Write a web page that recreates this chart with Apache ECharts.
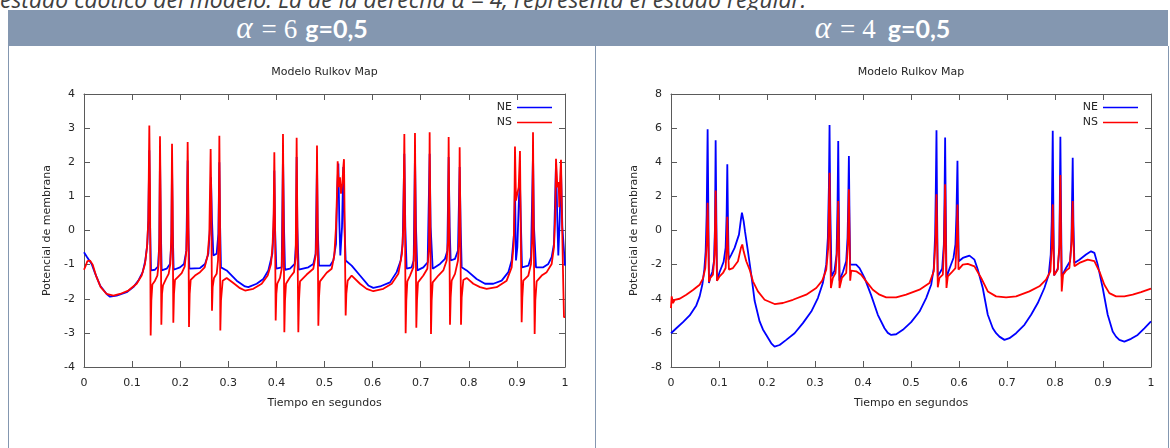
<!DOCTYPE html>
<html>
<head>
<meta charset="utf-8">
<script src="https://cdn.jsdelivr.net/npm/echarts/dist/echarts.min.js"></script>
<style>
  html, body { margin: 0; padding: 0; background: #fff; width: 1170px; height: 448px; overflow: hidden; }
  body { position: relative; }
  #intro { position: absolute; left: 0; top: -12px; font: italic 23px "Open Sans", sans-serif; color: #404040; white-space: nowrap; line-height: 23px; }
  .band { position: absolute; top: 10px; height: 36px; background: #8497b0; }
  .hd { position: absolute; top: 10px; height: 36px; line-height: 36px; text-align: center; color: #fff; white-space: nowrap; }
  .hd .m { font: 27px "Liberation Serif", serif; }
  .hd .m i { font-size: 31px; }
  .hd .m .eq { margin: 0 7px 0 9px; }
  .hd b { font: bold 25px Lato, sans-serif; }
  .vl { position: absolute; top: 46px; bottom: 0; width: 1px; background: #8497b0; }
  #chart { position: absolute; left: 0; top: 0; width: 1170px; height: 448px; }
</style>
</head>
<body>
<div id="intro">estado caótico del modelo. La de la derecha <i>α</i> = 4, representa el estado regular.</div>
<div class="band" style="left:8px;width:1160px"></div>
<div class="hd" style="left:8px;width:588px"><span class="m"><i>α</i><span class="eq">=</span>6</span>&nbsp;&nbsp;<b>g=0,5</b></div>
<div class="hd" style="left:597px;width:571px"><span class="m"><i>α</i><span class="eq">=</span>4</span>&nbsp;&nbsp;&nbsp;<b>g=0,5</b></div>
<div class="vl" style="left:8px"></div>
<div class="vl" style="left:595px"></div>
<div class="vl" style="left:1168px"></div>
<div id="chart"></div>
<script>
// Rulkov map, two coupled neurons (NE, NS); time in seconds, membrane potential.
const seriesNames = ['NE', 'NS'];
const chartTitle = 'Modelo Rulkov Map';
const xName = 'Tiempo en segundos';
const yName = 'Potencial de membrana';

// alpha = 6, g = 0.5 (chaotic regime)
const ne6 = [
  [0,-0.64],[0.0055,-0.76],[0.0159,-0.98],[0.0229,-1.25],[0.0333,-1.61],[0.0471,-1.86],[0.0541,-1.94],
  [0.0679,-1.91],[0.0887,-1.81],[0.1026,-1.66],[0.113,-1.47],[0.122,-1.22],[0.1275,-0.88],[0.1317,-0.39],
  [0.1337,0.29],[0.1358,2.35],[0.1372,0.29],[0.1393,-1.17],[0.1476,-1.15],[0.1538,-1.06],[0.1566,-0.39],
  [0.158,2.25],[0.1594,0.29],[0.1615,-1.17],[0.1719,-1.12],[0.1788,-0.98],[0.1816,-0.39],[0.183,1.96],
  [0.1843,0.10],[0.1864,-1.15],[0.1996,-1.08],[0.2079,-0.98],[0.2128,-0.59],[0.2155,2.05],[0.2169,0.10],
  [0.219,-1.12],[0.2412,-1.10],[0.2516,-0.98],[0.2585,-0.68],[0.262,0.10],[0.264,1.56],[0.2661,0.29],
  [0.2689,-0.73],[0.2758,-0.68],[0.2793,-0.10],[0.2814,2.00],[0.2827,0.29],[0.2848,-1.08],[0.2966,-1.17],
  [0.3174,-1.47],[0.3347,-1.64],[0.3416,-1.66],[0.359,-1.56],[0.3728,-1.42],[0.3832,-1.17],[0.3916,-0.68],
  [0.3943,0.10],[0.3957,1.76],[0.3971,0.10],[0.3999,-1.12],[0.411,-1.08],[0.4137,2.25],[0.4158,0.10],
  [0.4179,-1.15],[0.4283,-1.12],[0.438,-0.98],[0.4407,-0.39],[0.4421,2.15],[0.4435,0.10],[0.4463,-1.15],
  [0.4664,-1.08],[0.4768,-0.98],[0.4816,-0.68],[0.4844,1.96],[0.4858,0.10],[0.4886,-1.03],[0.5114,-1.03],
  [0.5184,-0.88],[0.5239,-0.39],[0.5267,1.27],[0.5288,1.96],[0.5308,0.29],[0.5329,-0.73],[0.5364,0.10],
  [0.5391,1.86],[0.5412,0.29],[0.544,-0.88],[0.5565,-1.03],[0.5738,-1.32],[0.5911,-1.61],[0.6015,-1.68],
  [0.6154,-1.64],[0.6362,-1.52],[0.65,-1.22],[0.6584,-0.88],[0.6625,-0.39],[0.666,2.25],[0.668,0.10],
  [0.6708,-1.12],[0.6812,-1.08],[0.6854,-0.88],[0.6881,2.25],[0.6902,0.10],[0.693,-1.17],[0.7055,-1.08],
  [0.7145,-0.93],[0.7186,2.25],[0.7207,0.10],[0.7249,-1.12],[0.7401,-0.98],[0.7505,-0.83],[0.7554,-0.59],
  [0.7581,2.15],[0.7602,0.10],[0.7623,-0.88],[0.7713,-0.83],[0.7775,-0.59],[0.781,1.86],[0.7831,0.10],
  [0.7852,-1.08],[0.7956,-1.17],[0.8163,-1.42],[0.8337,-1.56],[0.851,-1.56],[0.8683,-1.47],[0.8822,-1.22],
  [0.8891,-0.88],[0.894,-0.10],[0.896,1.27],[0.8981,-0.88],[0.9009,-0.49],[0.9044,0.98],[0.9064,1.37],
  [0.9085,0.10],[0.9106,-1.08],[0.9238,-1.03],[0.9293,-0.78],[0.9335,2.25],[0.9355,0.10],[0.9397,-1.08],
  [0.9549,-1.08],[0.9653,-0.98],[0.9723,-0.78],[0.9771,-0.39],[0.9813,1.96],[0.9841,0.29],[0.9861,-0.73],
  [0.9889,0.29],[0.9917,1.76],[0.9945,0.10],[1,-1.03]
];
const ns6 = [
  [0,-1.15],[0.0028,-1.06],[0.0069,-0.90],[0.0125,-0.88],[0.018,-1.00],[0.0249,-1.32],[0.0347,-1.66],
  [0.0471,-1.86],[0.061,-1.91],[0.0748,-1.86],[0.0922,-1.76],[0.1095,-1.56],[0.1199,-1.32],[0.1268,-0.98],
  [0.131,-0.49],[0.1337,0.29],[0.1358,3.08],[0.1372,1.27],[0.1386,-3.08],[0.14,-2.05],[0.1421,-1.58],
  [0.1476,-1.47],[0.1525,-1.32],[0.1552,-0.98],[0.1566,-0.20],[0.158,2.76],[0.1594,0.78],[0.1608,-2.76],
  [0.1622,-1.86],[0.1642,-1.61],[0.1705,-1.42],[0.176,-1.27],[0.1795,-0.98],[0.1816,-0.10],[0.183,2.54],
  [0.1843,0.78],[0.1857,-2.70],[0.1871,-1.86],[0.1892,-1.45],[0.1961,-1.35],[0.2031,-1.25],[0.2093,-1.06],
  [0.2128,-0.59],[0.2141,0.10],[0.2155,2.59],[0.2169,0.78],[0.2183,-2.83],[0.2197,-1.86],[0.2218,-1.45],
  [0.2308,-1.32],[0.2412,-1.22],[0.2509,-1.08],[0.2571,-0.73],[0.2606,-0.10],[0.2633,2.39],[0.2647,0.78],
  [0.2661,-2.35],[0.2675,-1.66],[0.2703,-1.39],[0.2758,-1.27],[0.2786,-0.88],[0.28,-0.10],[0.2814,2.78],
  [0.2827,0.49],[0.2834,-2.93],[0.2848,-2.05],[0.2883,-1.47],[0.2966,-1.39],[0.3105,-1.54],[0.3243,-1.69],
  [0.3347,-1.76],[0.352,-1.71],[0.3694,-1.56],[0.3819,-1.32],[0.3888,-0.98],[0.3922,-0.39],[0.3943,0.49],
  [0.3957,2.29],[0.3971,0.29],[0.3985,-2.64],[0.3999,-1.86],[0.4019,-1.56],[0.4075,-1.39],[0.411,-1.12],
  [0.4123,-0.39],[0.4137,2.83],[0.4151,0.29],[0.4165,-2.98],[0.4179,-2.05],[0.42,-1.56],[0.4283,-1.37],
  [0.4366,-1.22],[0.4401,-0.78],[0.4421,2.72],[0.4435,0.29],[0.4456,-2.98],[0.447,-2.05],[0.4491,-1.49],
  [0.4629,-1.29],[0.4768,-1.12],[0.4816,-0.73],[0.483,-0.20],[0.4844,2.49],[0.4858,0.29],[0.4872,-2.79],
  [0.4886,-1.96],[0.4906,-1.49],[0.5045,-1.24],[0.5149,-1.12],[0.5204,-0.73],[0.5239,0.10],[0.526,1.08],
  [0.5274,2.03],[0.5295,1.27],[0.5322,1.56],[0.5343,1.08],[0.5371,1.37],[0.5391,1.86],[0.5405,2.09],
  [0.5419,0.29],[0.544,-2.49],[0.5454,-1.86],[0.5482,-1.47],[0.5565,-1.32],[0.5738,-1.56],[0.5877,-1.71],
  [0.6015,-1.78],[0.6223,-1.71],[0.6396,-1.56],[0.6535,-1.27],[0.6611,-0.68],[0.6639,0.10],[0.666,2.83],
  [0.6674,0.29],[0.6687,-3.01],[0.6701,-2.05],[0.6722,-1.49],[0.6778,-1.32],[0.6847,-1.08],[0.6868,-0.39],
  [0.6881,2.86],[0.6895,0.29],[0.6909,-2.85],[0.6923,-2.05],[0.6944,-1.52],[0.7055,-1.32],[0.7138,-1.12],
  [0.7173,-0.49],[0.7186,2.88],[0.72,0.29],[0.7214,-3.03],[0.7228,-2.05],[0.7249,-1.52],[0.7367,-1.32],
  [0.747,-1.17],[0.754,-0.88],[0.7568,-0.29],[0.7581,2.74],[0.7595,0.29],[0.7609,-2.76],[0.7623,-1.96],
  [0.7644,-1.47],[0.7713,-1.27],[0.7775,-0.88],[0.7796,-0.29],[0.781,2.44],[0.7824,0.29],[0.7838,-2.76],
  [0.7852,-1.96],[0.7886,-1.45],[0.7956,-1.39],[0.8094,-1.56],[0.8233,-1.66],[0.8371,-1.71],[0.8579,-1.66],
  [0.8787,-1.47],[0.8891,-1.08],[0.8933,-0.39],[0.8947,0.49],[0.896,2.46],[0.8981,0.88],[0.9009,1.08],
  [0.9037,1.27],[0.9064,2.33],[0.9078,0.29],[0.9099,-2.69],[0.9113,-1.96],[0.9133,-1.47],[0.9238,-1.32],
  [0.9293,-0.98],[0.9321,-0.20],[0.9335,2.88],[0.9348,0.29],[0.9369,-3.03],[0.9383,-2.05],[0.9411,-1.49],
  [0.9515,-1.32],[0.9619,-1.22],[0.9723,-0.98],[0.9771,-0.49],[0.9799,0.49],[0.9813,2.10],[0.9841,1.27],
  [0.9868,1.42],[0.9882,0.68],[0.9903,1.66],[0.9917,2.07],[0.9938,0.29],[0.9965,-1.66],[0.9979,-2.54],
  [1,-2.54]
];

// alpha = 4, g = 0.5 (regular bursting)
const ne4 = [
  [0,-6.02],[0.0111,-5.73],[0.025,-5.37],[0.0389,-4.98],[0.0527,-4.39],[0.0597,-3.86],[0.0652,-3.18],
  [0.0694,-2.29],[0.0722,-1.22],[0.0743,0.94],[0.0763,5.94],[0.0777,1.53],[0.0791,-3.08],[0.0812,-2.78],
  [0.0861,-2.43],[0.0895,-1.80],[0.0916,0.16],[0.093,5.29],[0.0944,0.94],[0.0958,-2.94],[0.1013,-2.43],
  [0.1096,-1.84],[0.1138,-1.02],[0.1159,0.94],[0.1173,3.88],[0.1187,0.55],[0.1201,-1.71],[0.1256,-1.41],
  [0.1325,-1.02],[0.1416,-0.24],[0.1457,0.65],[0.1478,1.04],[0.1513,0.55],[0.1541,-0.04],[0.1603,-1.22],
  [0.1672,-2.59],[0.1742,-4.12],[0.1846,-5.33],[0.1915,-5.80],[0.1985,-6.12],[0.2089,-6.61],[0.2158,-6.80],
  [0.2262,-6.71],[0.2401,-6.41],[0.2575,-6.02],[0.2748,-5.43],[0.2922,-4.75],[0.306,-3.96],[0.3164,-3.08],
  [0.3234,-2.00],[0.3268,-0.43],[0.3289,2.51],[0.3303,6.18],[0.3317,1.53],[0.3345,-2.69],[0.3407,-2.35],
  [0.3449,-1.41],[0.347,1.53],[0.3484,5.25],[0.3498,0.94],[0.3511,-2.94],[0.3581,-2.43],[0.365,-1.80],
  [0.3678,-0.43],[0.3692,1.53],[0.3706,4.37],[0.372,0.55],[0.3733,-2.00],[0.3858,-2.00],[0.3928,-2.20],
  [0.4032,-2.78],[0.4171,-3.80],[0.4309,-4.94],[0.4448,-5.73],[0.4517,-6.00],[0.4587,-6.12],[0.4691,-6.08],
  [0.483,-5.82],[0.5003,-5.37],[0.5177,-4.75],[0.5316,-3.96],[0.542,-3.18],[0.5475,-2.20],[0.5503,-0.24],
  [0.5517,2.51],[0.5531,5.88],[0.5544,0.94],[0.5558,-2.69],[0.5649,-2.24],[0.5684,-0.82],[0.5697,1.53],
  [0.5711,5.45],[0.5725,0.94],[0.5739,-2.75],[0.5801,-2.24],[0.5885,-1.61],[0.5926,-0.82],[0.5947,0.94],
  [0.5968,4.08],[0.5982,0.55],[0.5996,-1.80],[0.6079,-1.61],[0.6218,-1.47],[0.6322,-1.71],[0.6391,-2.29],
  [0.6495,-3.37],[0.66,-4.94],[0.6704,-5.73],[0.6773,-6.02],[0.6842,-6.22],[0.6947,-6.41],[0.7051,-6.31],
  [0.719,-6.02],[0.7363,-5.53],[0.7502,-4.94],[0.7641,-4.25],[0.7779,-3.37],[0.7869,-2.59],[0.7911,-1.41],
  [0.7932,0.55],[0.7953,5.84],[0.7967,0.94],[0.7981,-2.63],[0.8057,-2.24],[0.8092,-1.02],[0.8112,5.49],
  [0.8126,0.94],[0.814,-2.69],[0.823,-2.20],[0.8314,-1.80],[0.8342,-0.63],[0.8369,4.27],[0.8383,0.55],
  [0.8404,-1.90],[0.8508,-1.71],[0.8647,-1.41],[0.8751,-1.22],[0.882,-1.31],[0.889,-2.00],[0.8994,-3.37],
  [0.9098,-4.94],[0.9202,-5.92],[0.9271,-6.22],[0.9341,-6.41],[0.9445,-6.51],[0.9584,-6.35],[0.9722,-6.12],
  [0.9861,-5.73],[1,-5.33]
];
const ns4 = [
  [0,-4.55],[0.0014,-3.86],[0.0042,-4.25],[0.0076,-4.06],[0.018,-4.00],[0.0319,-3.76],[0.0458,-3.49],
  [0.0597,-3.18],[0.0666,-2.82],[0.0715,-2.20],[0.0743,-0.82],[0.0763,1.63],[0.0777,-0.43],[0.0791,-3.02],
  [0.0819,-2.78],[0.0874,-2.59],[0.0909,-1.41],[0.093,2.35],[0.0944,-0.43],[0.0958,-2.94],[0.1013,-2.69],
  [0.1083,-2.49],[0.1138,-2.20],[0.1159,-1.02],[0.1173,0.80],[0.1187,-1.02],[0.1207,-2.29],[0.1291,-2.20],
  [0.1395,-1.80],[0.1457,-1.02],[0.1485,-0.82],[0.1513,-1.22],[0.1568,-1.80],[0.1638,-2.29],[0.1707,-2.98],
  [0.1811,-3.57],[0.195,-4.06],[0.2158,-4.31],[0.2332,-4.25],[0.254,-4.06],[0.2817,-3.76],[0.3026,-3.37],
  [0.3151,-2.94],[0.3234,-2.29],[0.3275,-1.02],[0.3303,3.39],[0.3317,-0.43],[0.3331,-3.37],[0.3373,-2.78],
  [0.3428,-2.49],[0.3463,-1.02],[0.3484,1.73],[0.3498,-0.63],[0.3511,-3.37],[0.356,-2.78],[0.365,-2.49],
  [0.3685,-0.82],[0.3706,2.41],[0.372,-0.43],[0.3733,-2.94],[0.3754,-2.35],[0.3858,-2.39],[0.3962,-2.59],
  [0.4067,-2.98],[0.4205,-3.47],[0.4344,-3.76],[0.4483,-3.92],[0.4691,-3.92],[0.4899,-3.76],[0.5177,-3.47],
  [0.5385,-3.08],[0.5475,-2.39],[0.551,-0.63],[0.5531,2.12],[0.5544,-0.43],[0.5558,-3.33],[0.5593,-2.78],
  [0.5663,-2.59],[0.569,-0.82],[0.5711,2.71],[0.5725,-0.43],[0.5739,-3.37],[0.5767,-2.69],[0.5836,-2.49],
  [0.5926,-2.20],[0.5954,-0.43],[0.5968,1.53],[0.5982,-0.63],[0.5989,-2.29],[0.6079,-2.00],[0.6183,-1.96],
  [0.6322,-2.10],[0.6461,-2.78],[0.66,-3.57],[0.6773,-3.86],[0.6981,-3.92],[0.719,-3.86],[0.7467,-3.57],
  [0.7675,-3.27],[0.7814,-2.88],[0.7904,-2.39],[0.7932,-1.02],[0.7953,1.53],[0.7967,-0.82],[0.7981,-2.63],
  [0.8057,-2.29],[0.8092,-0.82],[0.8112,3.25],[0.8126,-0.43],[0.814,-3.57],[0.8168,-2.59],[0.823,-2.35],
  [0.83,-2.20],[0.8342,-0.82],[0.8369,1.73],[0.8383,-0.63],[0.8404,-2.10],[0.8508,-1.90],[0.8681,-1.71],
  [0.882,-1.80],[0.8924,-2.39],[0.9028,-3.18],[0.9132,-3.67],[0.9271,-3.86],[0.9445,-3.86],[0.9618,-3.76],
  [0.9792,-3.61],[1,-3.41]
];

// axis ranges
const xRange = { min: 0, max: 1, interval: 0.1 };
const yRange6 = { min: -4, max: 4, interval: 1 };
const yRange4 = { min: -8, max: 8, interval: 2 };

const colors = { NE: '#0000ff', NS: '#ff0000' };
const FONT = 'DejaVu Sans';
const TXT = '#262626';
const BORDER = '#5a5a5a';

const panels = [
  { grid: { left: 84, top: 94, width: 481, height: 273 }, y: yRange6, ne: ne6, ns: ns6 },
  { grid: { left: 671, top: 94, width: 480, height: 273 }, y: yRange4, ne: ne4, ns: ns4 }
];

const tick = { show: true, inside: true, length: 6, lineStyle: { color: BORDER, width: 1 } };
const line = { show: true, onZero: false, lineStyle: { color: BORDER, width: 1 } };

const option = {
  animation: false,
  grid: panels.map(p => p.grid),
  xAxis: [],
  yAxis: [],
  series: [],
  legend: [],
  graphic: []
};

panels.forEach((p, i) => {
  option.xAxis.push({
    type: 'value', gridIndex: i, position: 'bottom', ...xRange,
    axisLine: line, axisTick: tick, splitLine: { show: false },
    axisLabel: { show: true, margin: 11, fontSize: 11, fontFamily: FONT, color: TXT },
    name: xName, nameLocation: 'middle', nameGap: 31,
    nameTextStyle: { fontSize: 11, fontFamily: FONT, color: TXT }
  });
  option.xAxis.push({
    type: 'value', gridIndex: i, position: 'top', ...xRange,
    axisLine: line, axisTick: tick, splitLine: { show: false }, axisLabel: { show: false }
  });
  option.yAxis.push({
    type: 'value', gridIndex: i, position: 'left', ...p.y,
    axisLine: line, axisTick: tick, splitLine: { show: false },
    axisLabel: { show: true, margin: 9, fontSize: 11, fontFamily: FONT, color: TXT },
    name: yName, nameLocation: 'middle', nameGap: 31, nameRotate: 90,
    nameTextStyle: { fontSize: 11, fontFamily: FONT, color: TXT }
  });
  option.yAxis.push({
    type: 'value', gridIndex: i, position: 'right', ...p.y,
    axisLine: line, axisTick: tick, splitLine: { show: false }, axisLabel: { show: false }
  });
  [['NE', p.ne], ['NS', p.ns]].forEach(([name, data]) => {
    option.series.push({
      name, type: 'line', data, xAxisIndex: i * 2, yAxisIndex: i * 2,
      symbol: 'none', showSymbol: false, silent: true,
      lineStyle: { color: colors[name], width: 1.8 },
      itemStyle: { color: colors[name] }
    });
  });
  const right = p.grid.left + p.grid.width;
  option.legend.push({
    data: seriesNames, orient: 'vertical', align: 'right',
    right: 1170 - (right - 13), top: 100, padding: 0, itemGap: 0,
    icon: 'rect', itemWidth: 35, itemHeight: 1.5,
    textStyle: { fontSize: 11, fontFamily: FONT, color: TXT, lineHeight: 15 },
    selectedMode: false
  });
  option.graphic.push({
    type: 'text', x: p.grid.left + p.grid.width / 2, y: 72,
    style: { text: chartTitle, align: 'center', verticalAlign: 'middle', font: '11px ' + FONT, fill: TXT }
  });
});

const chart = echarts.init(document.getElementById('chart'), null, { renderer: 'canvas' });
chart.setOption(option);
</script>
</body>
</html>
